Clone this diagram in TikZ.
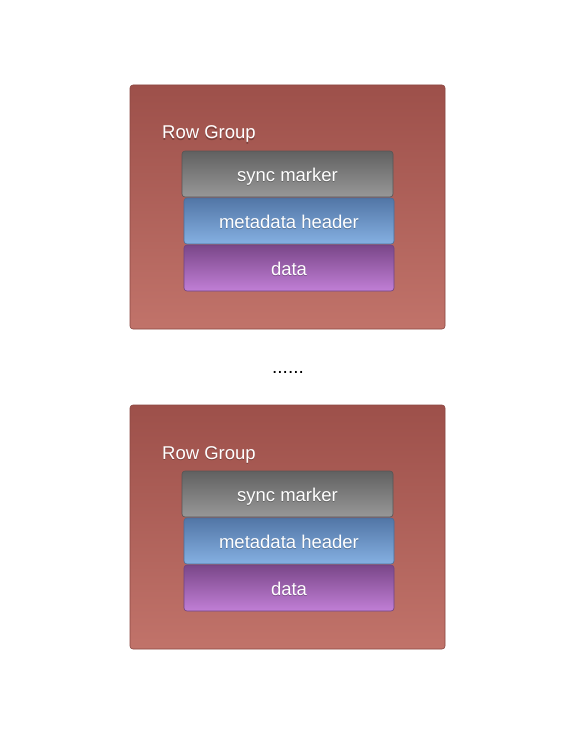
\documentclass[tikz,border=0pt]{standalone}
\usepackage{fontspec}
\setmainfont{Liberation Sans}
\definecolor{grpTop}{HTML}{9D504A}
\definecolor{grpBot}{HTML}{C1736A}
\definecolor{grpLine}{HTML}{8A4640}
\definecolor{syncTop}{HTML}{616161}
\definecolor{syncBot}{HTML}{989898}
\definecolor{syncLine}{HTML}{555555}
\definecolor{metaTop}{HTML}{5276A6}
\definecolor{metaBot}{HTML}{85B0E2}
\definecolor{metaLine}{HTML}{4A6C98}
\definecolor{dataTop}{HTML}{7A4789}
\definecolor{dataBot}{HTML}{C17FD6}
\definecolor{dataLine}{HTML}{6E4280}
\tikzset{
  x=1pt, y=-1pt,
  group/.style={draw=grpLine, line width=0.6pt, rounded corners=3pt, top color=grpTop, bottom color=grpBot},
  layer/.style={line width=0.6pt, rounded corners=3pt},
  syncbox/.style={layer, draw=syncLine, top color=syncTop, bottom color=syncBot},
  metabox/.style={layer, draw=metaLine, top color=metaTop, bottom color=metaBot},
  databox/.style={layer, draw=dataLine, top color=dataTop, bottom color=dataBot},
  lbl/.style={text=white, font=\fontsize{18.5}{22}\selectfont, inner sep=0pt},
  shadowtxt/.style={text=black, font=\fontsize{18.5}{22}\selectfont, inner sep=0pt, opacity=0.25},
}
\newcommand{\rowgroup}[2]{%
  \path[group] (130,#1+85) rectangle (445,#1+329);
  \node[shadowtxt, anchor=base west] at (162,#1+140) {Row Group};
  \node[lbl, anchor=base west] (rg#2) at (162,#1+139) {Row Group};
  \path[syncbox] (182,#1+151) rectangle (393,#1+197);
  \path[metabox] (184,#1+198) rectangle (394,#1+244);
  \path[databox] (184,#1+245) rectangle (394,#1+291);
  \node[shadowtxt, anchor=base] at (287.5,#1+182) {sync marker};
  \node[lbl, anchor=base] (sync#2) at (287.5,#1+181) {sync marker};
  \node[shadowtxt, anchor=base] at (289,#1+229) {metadata header};
  \node[lbl, anchor=base] (meta#2) at (289,#1+228) {metadata header};
  \node[shadowtxt, anchor=base] at (289,#1+276) {data};
  \node[lbl, anchor=base] (data#2) at (289,#1+275) {data};
}
\begin{document}
\begin{tikzpicture}
\useasboundingbox[fill=white] (0,0) rectangle (575,733);
\rowgroup{0}{a}
\node[font=\fontsize{19}{22}\selectfont, inner sep=0pt, anchor=base] (dots) at (288,373) {......};
\rowgroup{320}{b}
\end{tikzpicture}
\end{document}
